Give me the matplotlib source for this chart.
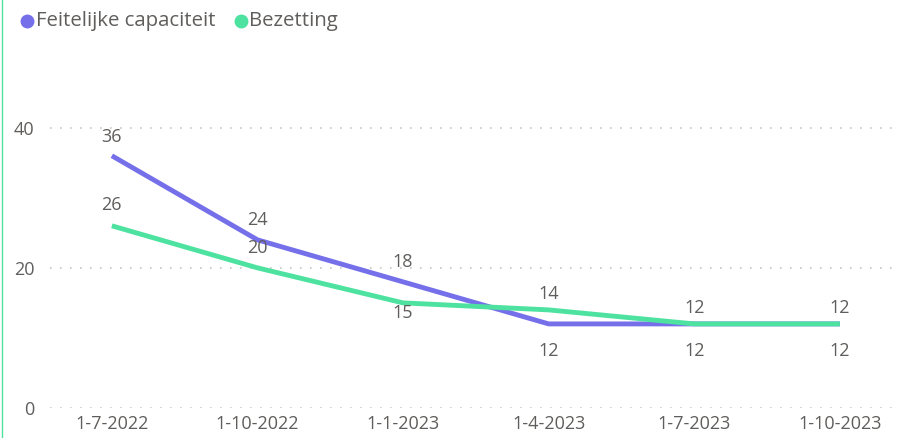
import matplotlib
matplotlib.use("Agg")
import matplotlib.pyplot as plt
from matplotlib.lines import Line2D

dates = ["1-7-2022", "1-10-2022", "1-1-2023", "1-4-2023", "1-7-2023", "1-10-2023"]
capaciteit = [36, 24, 18, 12, 12, 12]
bezetting = [26, 20, 15, 14, 12, 12]

# label offsets in pixels (above / below the point)
cap_offsets = [19, 20, 20, -27, -27, -27]
bez_offsets = [21, 20, -10, 16, 16, 16]

PURPLE = "#7570EA"
GREEN = "#4DE2A0"
TXT = "#605E5C"

plt.rcParams["font.family"] = ["Open Sans", "DejaVu Sans"]

fig = plt.figure(figsize=(8.97, 4.38), dpi=100)
ax = fig.add_axes([0.0557, 0.0685, 0.9423, 0.8175])

x = list(range(len(dates)))
ax.plot(x, capaciteit, color=PURPLE, lw=3.5, solid_capstyle="butt")
ax.plot(x, bezetting, color=GREEN, lw=3.5, solid_capstyle="butt")

for xi, v, off in zip(x, capaciteit, cap_offsets):
    ax.annotate(str(v), (xi, v), xytext=(0, off), textcoords="offset pixels",
                ha="center", va="center", fontsize=13, color=TXT)
for xi, v, off in zip(x, bezetting, bez_offsets):
    ax.annotate(str(v), (xi, v), xytext=(0, off), textcoords="offset pixels",
                ha="center", va="center", fontsize=13, color=TXT)

ax.set_xlim(-0.425, 5.38)
ax.set_ylim(0, 51.1)
ax.set_yticks([0, 20, 40])
ax.set_xticks(x)
ax.set_xticklabels(dates)
ax.tick_params(length=0, labelsize=13, labelcolor=TXT)
ax.tick_params(axis="y", pad=11)
ax.tick_params(axis="x", pad=5)
ax.grid(axis="y", color="#C8C6C4", linestyle=(0, (1, 5)), lw=1.2)
ax.set_axisbelow(True)
for s in ax.spines.values():
    s.set_visible(False)

# legend
ly = 1 - 21 / 438
fig.add_artist(Line2D([27 / 897], [ly], marker="o", markersize=9,
                      color=PURPLE, transform=fig.transFigure))
fig.text(36 / 897, ly, "Feitelijke capaciteit", fontsize=14.7,
         color=TXT, va="center", ha="left")
fig.add_artist(Line2D([241 / 897], [ly], marker="o", markersize=9,
                      color=GREEN, transform=fig.transFigure))
fig.text(249 / 897, ly, "Bezetting", fontsize=14.7,
         color=TXT, va="center", ha="left")

# left border line
fig.add_artist(Line2D([2 / 897, 2 / 897], [0, 1], color=GREEN, lw=1,
                      transform=fig.transFigure))

fig.savefig("out.png", dpi=100)
